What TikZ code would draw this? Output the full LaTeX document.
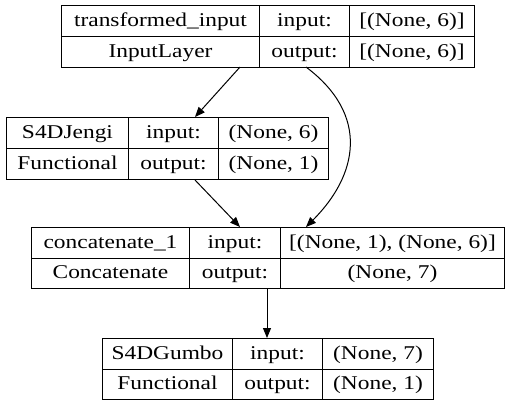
\documentclass[tikz,border=0pt]{standalone}
\usepackage{fontspec}
\setmainfont{Liberation Serif}[FakeStretch=1.2]
\usetikzlibrary{arrows.meta}
\tikzset{
  cell/.style={draw=black, line width=1pt, inner sep=0pt, anchor=north west,
    minimum height=31pt, text height=14.5pt, text depth=3.5pt,
    font=\fontsize{19.5}{22}\selectfont},
  conn/.style={line width=1pt, -{Triangle[length=10pt,width=8pt]}}
}
\begin{document}
\begin{tikzpicture}[x=1pt,y=-1pt]
\useasboundingbox (0,0) rectangle (509,405);
% Box 1
\node[cell, minimum width=198pt] (a1) at (61,5) {transformed\_input};
\node[cell, minimum width=90pt] (a2) at (259,5) {input:};
\node[cell, minimum width=125pt] (a3) at (349,5) {[(None, 6)]};
\node[cell, minimum width=198pt] (a4) at (61,36) {InputLayer};
\node[cell, minimum width=90pt] (a5) at (259,36) {output:};
\node[cell, minimum width=125pt] (a6) at (349,36) {[(None, 6)]};
% Box 2
\node[cell, minimum width=122pt] (b1) at (6,117) {S4DJengi};
\node[cell, minimum width=90pt] (b2) at (128,117) {input:};
\node[cell, minimum width=110pt] (b3) at (218,117) {(None, 6)};
\node[cell, minimum width=122pt] (b4) at (6,148) {Functional};
\node[cell, minimum width=90pt] (b5) at (128,148) {output:};
\node[cell, minimum width=110pt] (b6) at (218,148) {(None, 1)};
% Box 3
\node[cell, minimum width=158pt, minimum height=30.5pt] (c1) at (31,227) {concatenate\_1};
\node[cell, minimum width=91pt, minimum height=30.5pt] (c2) at (189,227) {input:};
\node[cell, minimum width=224pt, minimum height=30.5pt] (c3) at (280,227) {[(None, 1), (None, 6)]};
\node[cell, minimum width=158pt, minimum height=30.5pt] (c4) at (31,257.5) {Concatenate};
\node[cell, minimum width=91pt, minimum height=30.5pt] (c5) at (189,257.5) {output:};
\node[cell, minimum width=224pt, minimum height=30.5pt] (c6) at (280,257.5) {(None, 7)};
% Box 4
\node[cell, minimum width=130pt, minimum height=30.5pt] (d1) at (102,338) {S4DGumbo};
\node[cell, minimum width=90pt, minimum height=30.5pt] (d2) at (232,338) {input:};
\node[cell, minimum width=111pt, minimum height=30.5pt] (d3) at (322,338) {(None, 7)};
\node[cell, minimum width=130pt, minimum height=30.5pt] (d4) at (102,368.5) {Functional};
\node[cell, minimum width=90pt, minimum height=30.5pt] (d5) at (232,368.5) {output:};
\node[cell, minimum width=111pt, minimum height=30.5pt] (d6) at (322,368.5) {(None, 1)};
% Connectors
\coordinate (p1) at (240,67);
\coordinate (q1) at (195,117);
\coordinate (p2) at (306,67);
\coordinate (q2) at (306,227);
\coordinate (p3) at (195,180);
\coordinate (q3) at (240,227);
\coordinate (p4) at (267,288);
\coordinate (q4) at (267,338);
\draw[conn] (p1) -- (q1);
\draw[conn] (p2) .. controls (370,115) and (358,175) .. (q2);
\draw[conn] (p3) -- (q3);
\draw[conn] (p4) -- (q4);
\end{tikzpicture}
\end{document}
